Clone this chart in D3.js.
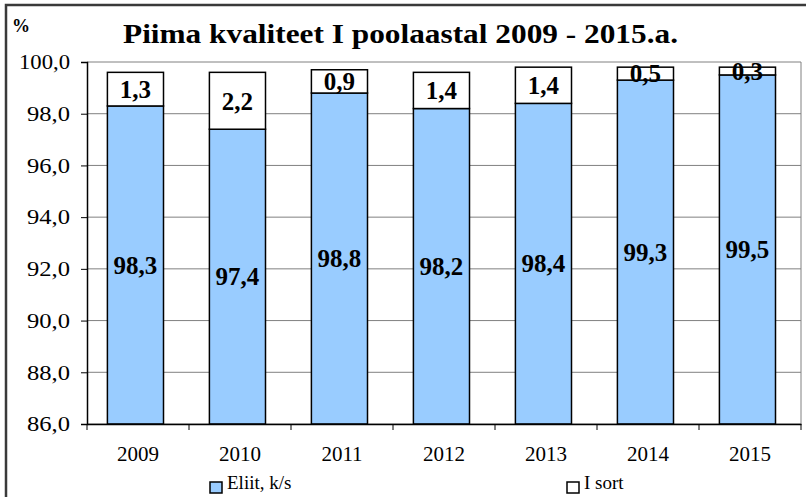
<!DOCTYPE html>
<html>
<head>
<meta charset="utf-8">
<script src="https://cdn.jsdelivr.net/npm/d3@7"></script>
<style>
  body { margin: 0; background: #fff; }
  svg text { font-family: "Liberation Serif", "Times New Roman", serif; }
</style>
</head>
<body>
<div id="chart"></div>
<script>
// Data
const years = ["2009", "2010", "2011", "2012", "2013", "2014", "2015"];
const eliit = [98.3, 97.4, 98.8, 98.2, 98.4, 99.3, 99.5];
const iSort = [1.3, 2.2, 0.9, 1.4, 1.4, 0.5, 0.3];
const yTicks = [86, 88, 90, 92, 94, 96, 98, 100];

const W = 806, H = 497;
const margin = {top: 62, right: 5, bottom: 73, left: 87};
const width = W - margin.left - margin.right;
const height = H - margin.top - margin.bottom;
const serif = "'Liberation Serif', 'Times New Roman', serif";

const svg = d3.select("#chart")
    .append("svg")
    .attr("width", W)
    .attr("height", H)
    .attr("font-family", serif);

// outer frame
svg.append("rect")
    .attr("x", 6).attr("y", 5)
    .attr("width", W + 10).attr("height", H + 10)
    .attr("fill", "none")
    .attr("stroke", "#3a3a3a")
    .attr("stroke-width", 2.5);

const g = svg.append("g")
    .attr("transform", `translate(${margin.left},${margin.top})`);

const x = d3.scaleBand()
    .domain(years)
    .range([0, width])
    .padding(0);

const y = d3.scaleLinear()
    .domain([86, 100])
    .range([height, 0]);

const fmt = v => d3.format(".1f")(v).replace(".", ",");

// gridlines
g.selectAll(".grid")
    .data(yTicks)
    .join("line")
    .attr("x1", 0).attr("x2", width)
    .attr("y1", d => y(d)).attr("y2", d => y(d))
    .attr("stroke", "#808080")
    .attr("stroke-width", 1);

// right frame
g.append("line")
    .attr("x1", width).attr("x2", width)
    .attr("y1", 0).attr("y2", height)
    .attr("stroke", "#808080");

// bars
const barOff = x.bandwidth() * 0.2;
const barW = x.bandwidth() * 0.55;

g.selectAll(".eliit")
    .data(years)
    .join("rect")
    .attr("x", d => x(d) + barOff)
    .attr("y", (d, i) => y(eliit[i]))
    .attr("width", barW)
    .attr("height", (d, i) => y(86) - y(eliit[i]))
    .attr("fill", "#99ccff")
    .attr("stroke", "#000")
    .attr("stroke-width", 1.5);

g.selectAll(".isort")
    .data(years)
    .join("rect")
    .attr("x", d => x(d) + barOff)
    .attr("y", (d, i) => y(eliit[i] + iSort[i]))
    .attr("width", barW)
    .attr("height", (d, i) => y(eliit[i]) - y(eliit[i] + iSort[i]))
    .attr("fill", "#fff")
    .attr("stroke", "#000")
    .attr("stroke-width", 1.5);

// value labels
g.selectAll(".lblE")
    .data(years)
    .join("text")
    .attr("x", d => x(d) + barOff + barW / 2)
    .attr("y", (d, i) => (y(eliit[i]) + y(86)) / 2)
    .attr("dy", "0.35em")
    .attr("text-anchor", "middle")
    .attr("font-weight", "bold")
    .attr("font-size", 25)
    .text((d, i) => fmt(eliit[i]));

g.selectAll(".lblS")
    .data(years)
    .join("text")
    .attr("x", d => x(d) + barOff + barW / 2)
    .attr("y", (d, i) => (y(eliit[i]) + y(eliit[i] + iSort[i])) / 2)
    .attr("dy", "0.35em")
    .attr("text-anchor", "middle")
    .attr("font-weight", "bold")
    .attr("font-size", 25)
    .text((d, i) => fmt(iSort[i]));

// axes
const yAxis = g.append("g")
    .call(d3.axisLeft(y).tickValues(yTicks).tickFormat(fmt).tickSize(6).tickPadding(11));
yAxis.attr("font-family", serif);
yAxis.select(".domain").attr("stroke", "#000").attr("stroke-width", 1.5);
yAxis.selectAll("text").attr("font-size", 21).attr("fill", "#000")
    .attr("textLength", 43).attr("lengthAdjust", "spacingAndGlyphs");
yAxis.selectAll("text").filter(d => d === 100).attr("textLength", 51);

const xAxis = g.append("g")
    .attr("transform", `translate(0,${height})`)
    .call(d3.axisBottom(x).tickSize(0).tickPadding(22));
xAxis.attr("font-family", serif);
xAxis.select(".domain").attr("stroke", "#000").attr("stroke-width", 1.5);
xAxis.selectAll("text").attr("font-size", 21).attr("fill", "#000");

// category boundary ticks
g.selectAll(".xtick")
    .data(d3.range(years.length + 1))
    .join("line")
    .attr("x1", i => i * x.step()).attr("x2", i => i * x.step())
    .attr("y1", height).attr("y2", height + 6)
    .attr("stroke", "#000");

// title
svg.append("text")
    .attr("x", 123).attr("y", 43)
    .attr("font-weight", "bold")
    .attr("font-size", 28)
    .attr("textLength", 555)
    .attr("lengthAdjust", "spacingAndGlyphs")
    .text("Piima kvaliteet I poolaastal 2009 - 2015.a.");

svg.append("text")
    .attr("x", 12).attr("y", 32)
    .attr("font-weight", "bold")
    .attr("font-size", 18)
    .text("%");

// legend
const legend = [
  {name: "Eliit, k/s", color: "#99ccff", x: 210},
  {name: "I sort", color: "#fff", x: 567}
];
const lg = svg.selectAll(".legend")
    .data(legend)
    .join("g")
    .attr("transform", d => `translate(${d.x},482)`);
lg.append("rect")
    .attr("width", 12).attr("height", 11)
    .attr("fill", d => d.color)
    .attr("stroke", "#000")
    .attr("stroke-width", 1.5);
lg.append("text")
    .attr("x", 17).attr("y", 7)
    .attr("font-size", 19)
    .text(d => d.name);
</script>
</body>
</html>
